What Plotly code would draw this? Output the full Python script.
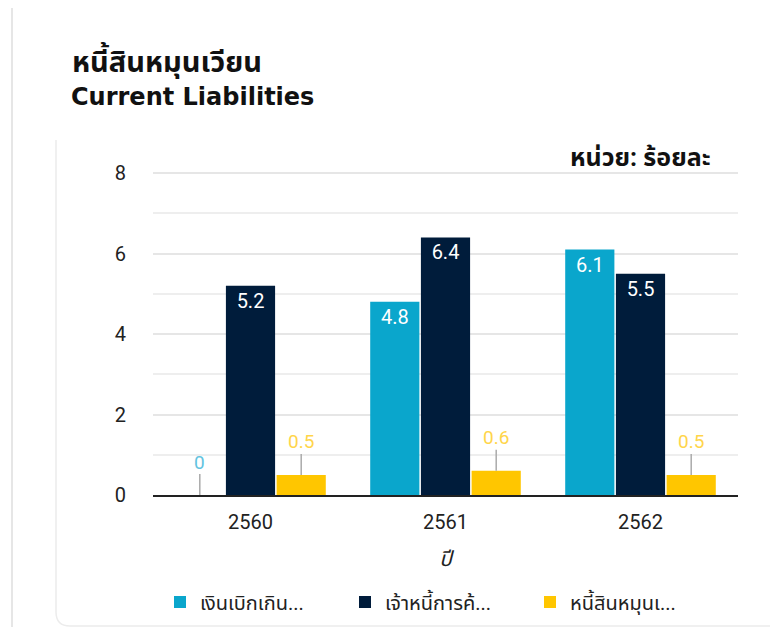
import plotly.graph_objects as go

years = ["2560", "2561", "2562"]
series_names = ["เงินเบิกเกิน...", "เจ้าหนี้การค้...", "หนี้สินหมุนเ..."]
overdraft = [0, 4.8, 6.1]
trade_payables = [5.2, 6.4, 5.5]
other_current = [0.5, 0.6, 0.5]
y_ticks = [0, 2, 4, 6, 8]
title_th = "หนี้สินหมุนเวียน"
title_en = "Current Liabilities"
unit_label = "หน่วย: ร้อยละ"
x_title = "ปี"

series_values = [overdraft, trade_payables, other_current]
colors = ["#0aa6cc", "#001c3b", "#ffc600"]
label_colors = ["#62c3e0", "#ffffff", "#ffd54a"]

FONT = "Roboto, 'Noto Sans Thai', 'Noto Sans', sans-serif"
TITLE_FONT = "'DejaVu Sans', 'Noto Sans Thai', sans-serif"
OFF = 8  # page body margin
W, H = 778 - OFF, 627 - OFF
Y_MAX = 8.15
PX_PER_UNIT = (495 - 173) / 8
# target plot area in window pixels
PL, PR, PB = 153, 738, 495
PT = round(PB - Y_MAX * PX_PER_UNIT)
ML, MT = PL - OFF, PT - OFF
MR = W - (PR - OFF)
MB = H - (PB - OFF)
plot_w = PR - PL
plot_h = PB - PT
BARGAP = 0.22
INSIDE_MIN = 1.0


def px_x(p):
    return (p - PL) / plot_w


def px_y(p):
    return (PB - p) / plot_h


fig = go.Figure()
for name, vals, col in zip(series_names, series_values, colors):
    fig.add_trace(go.Bar(
        x=years, y=vals, name=name,
        marker=dict(color=col, line=dict(width=0)),
        text=[f"{v:g}" if v >= INSIDE_MIN else "" for v in vals],
        textposition="inside", insidetextanchor="end",
        textangle=0, constraintext="none",
        textfont=dict(color="white", size=20, family=FONT),
        hoverinfo="skip",
    ))

# outside labels with leader lines for small values
slot_px = plot_w / len(years) * (1 - BARGAP) / len(series_values)
annotations = []
for i, vals in enumerate(series_values):
    shift = (i - (len(series_values) - 1) / 2) * slot_px
    for j, v in enumerate(vals):
        if v < INSIDE_MIN:
            annotations.append(dict(
                x=j, y=v, xref="x", yref="y", xshift=shift,
                text=f"{v:g}", showarrow=True, arrowhead=0, arrowwidth=1.5,
                arrowcolor="#aaaaaa", ax=0, ay=-33, standoff=0, borderpad=0,
                font=dict(size=19, color=label_colors[i], family=FONT),
            ))

annotations += [
    dict(x=px_x(70), y=px_y(60), xref="paper", yref="paper",
         xanchor="left", yanchor="middle", showarrow=False,
         text=f"<b>{title_th}</b>", font=dict(size=29, color="#111111", family=TITLE_FONT)),
    dict(x=px_x(69), y=px_y(97), xref="paper", yref="paper",
         xanchor="left", yanchor="middle", showarrow=False,
         text=f"<b>{title_en}</b>", font=dict(size=24, color="#111111", family=TITLE_FONT)),
    dict(x=px_x(713), y=px_y(157), xref="paper", yref="paper",
         xanchor="right", yanchor="middle", showarrow=False,
         text=f"<b>{unit_label}</b>", font=dict(size=25, color="#111111", family=FONT)),
]

shapes = [
    dict(type="line", xref="paper", yref="paper", x0=px_x(12), x1=px_x(12),
         y0=px_y(0), y1=px_y(640), line=dict(color="#e6e6e6", width=2), layer="below"),
    dict(type="path", xref="paper", yref="paper",
         path=(f"M {px_x(56)} {px_y(140)} L {px_x(56)} {px_y(612)} "
               f"Q {px_x(56)} {px_y(626)} {px_x(70)} {px_y(626)} L {px_x(790)} {px_y(626)}"),
         line=dict(color="#ececec", width=1.5), layer="below"),
]

fig.update_layout(
    width=W, height=H,
    margin=dict(l=ML, r=MR, t=MT, b=MB, pad=0, autoexpand=False),
    paper_bgcolor="white", plot_bgcolor="white",
    barmode="group", bargap=BARGAP, bargroupgap=0.03,
    font=dict(family=FONT, color="#222222"),
    showlegend=True,
    legend=dict(orientation="h", x=px_x(160), xanchor="left", y=px_y(602), yanchor="middle",
                font=dict(size=20, color="#222222", family=FONT),
                entrywidth=140, entrywidthmode="pixels", traceorder="normal",
                itemclick=False, itemdoubleclick=False),
    annotations=annotations, shapes=shapes,
    xaxis=dict(
        type="category", range=[-0.5, len(years) - 0.5], autorange=False,
        showgrid=False, showline=True, linecolor="#222222", linewidth=2,
        ticks="outside", ticklen=8, tickcolor="rgba(0,0,0,0)",
        tickfont=dict(size=20, color="#222222", family=FONT),
        title=dict(text=f"<i>{x_title}</i>", standoff=18,
                   font=dict(size=21, color="#222222", family=FONT)),
        zeroline=False,
    ),
    yaxis=dict(
        range=[0, Y_MAX], autorange=False, tickvals=y_ticks, showgrid=True,
        gridcolor="#e6e6e6", gridwidth=1.5,
        minor=dict(dtick=1, showgrid=True, gridcolor="#eeeeee", gridwidth=1.5),
        showline=False, zeroline=False,
        ticks="outside", ticklen=22, tickcolor="rgba(0,0,0,0)",
        tickfont=dict(size=20, color="#222222", family=FONT),
    ),
)

fig.write_html("out.html")
